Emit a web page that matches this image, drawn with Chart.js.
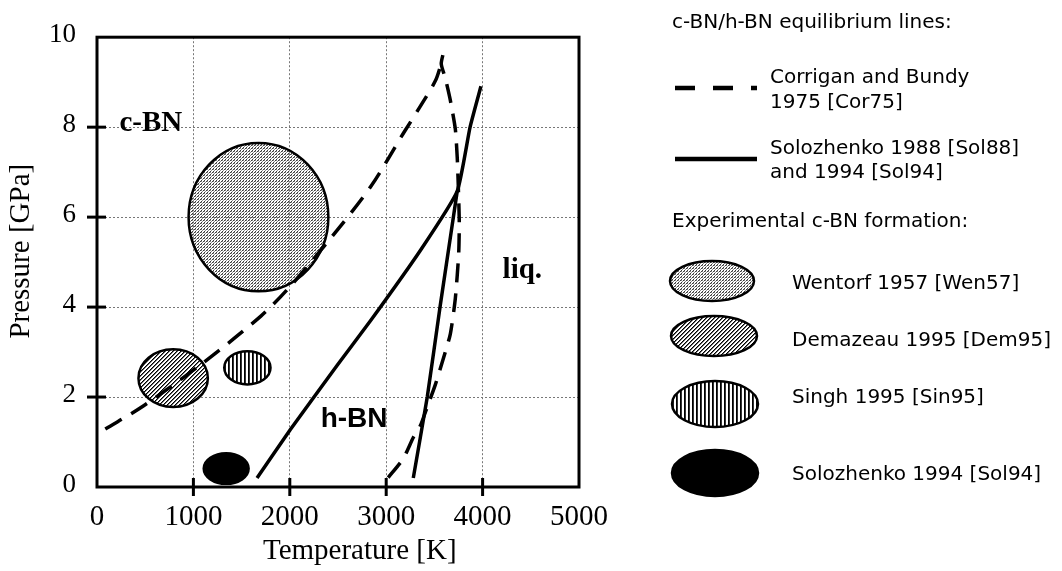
<!DOCTYPE html>
<html>
<head>
<meta charset="utf-8">
<script src="https://cdn.jsdelivr.net/npm/chart.js@4.4.1/dist/chart.umd.min.js"></script>
<style>
  html, body { margin: 0; padding: 0; background: #fff; }
  canvas { display: block; }
</style>
</head>
<body>
<canvas id="chart" width="1062" height="571"></canvas>
<script>
// Axis ranges (temperature in K, pressure in GPa)
const temperatureRange = [0, 5000];
const temperatureStep = 1000;
const pressureRange = [0, 10];
const pressureStep = 2;

// Corrigan and Bundy 1975: c-BN/h-BN equilibrium line
const corriganEqT = [86, 480, 1100, 1700, 2000, 2450, 2840, 3180, 3350, 3510, 3571];
const corriganEqP = [1.29, 1.80, 2.76, 3.80, 4.45, 5.60, 6.68, 7.87, 8.45, 9.03, 9.41];
// Corrigan and Bundy 1975: melting line
const corriganMeltT = [3021, 3177, 3281, 3354, 3426, 3509, 3592, 3665, 3717, 3752, 3758, 3748, 3737, 3717, 3665, 3613, 3571, 3603];
const corriganMeltP = [0.21, 0.63, 1.10, 1.36, 1.78, 2.27, 2.85, 3.40, 4.19, 5.19, 5.89, 6.68, 7.32, 7.96, 8.60, 9.09, 9.41, 9.73];

// Solozhenko 1988 / 1994: equilibrium line and melting line
const solozhenkoEqT = [1660, 2006, 2490, 2835, 3354, 3737, 3870, 3983];
const solozhenkoEqP = [0.20, 1.28, 2.70, 3.69, 5.26, 6.58, 8.00, 8.91];
const solozhenkoMeltT = [3281, 3426, 3561, 3737];
const solozhenkoMeltP = [0.20, 2.00, 4.04, 6.58];

// Experimental c-BN formation regions: centre and half-extent
const formationStudies = ['Wentorf 1957 [Wen57]', 'Demazeau 1995 [Dem95]', 'Singh 1995 [Sin95]', 'Solozhenko 1994 [Sol94]'];
const formationT = [1675, 790, 1560, 1340];
const formationP = [6.00, 2.42, 2.65, 0.41];
const formationHalfT = [725, 360, 240, 233];
const formationHalfP = [1.65, 0.64, 0.37, 0.34];

// Phase region names
const regionNames = ['c-BN', 'h-BN', 'liq.'];
const regionT = [558, 2667, 4412];
const regionP = [7.92, 1.335, 4.65];

const lineLegend = [
  ['Corrigan and Bundy', '1975 [Cor75]'],
  ['Solozhenko 1988 [Sol88]', 'and 1994 [Sol94]']
];

const toPoints = (ts, ps) => ts.map((t, i) => ({ x: t, y: ps[i] }));

const canvas = document.getElementById('chart');
const ctx = canvas.getContext('2d');

// Fill textures for the formation regions
function makeTexture(kind) {
  if (kind === 'solid') return '#000';
  const c = document.createElement('canvas');
  const g = c.getContext('2d');
  if (kind === 'stipple') {
    c.width = 3; c.height = 3;
    g.fillStyle = '#3a3a3a';
    g.fillRect(0, 0, 1, 1);
    g.fillRect(2, 1, 1, 1);
    g.fillStyle = '#8a8a8a';
    g.fillRect(1, 2, 1, 1);
    g.fillRect(0, 1, 1, 1);
  } else if (kind === 'diagonal') {
    c.width = 4; c.height = 4;
    g.fillStyle = '#fff'; g.fillRect(0, 0, 4, 4);
    for (let x = 0; x < 4; x++) {
      for (let y = 0; y < 4; y++) {
        const s = (x + y) % 4;
        if (s === 3) { g.fillStyle = '#000'; g.fillRect(x, y, 1, 1); }
        else if (s === 0) { g.fillStyle = '#6a6a6a'; g.fillRect(x, y, 1, 1); }
      }
    }
  } else if (kind === 'vertical') {
    c.width = 4; c.height = 1;
    g.fillStyle = '#fff'; g.fillRect(0, 0, 4, 1);
    g.fillStyle = '#000'; g.fillRect(0, 0, 1, 1);
    g.fillStyle = '#333'; g.fillRect(1, 0, 1, 1);
  }
  return ctx.createPattern(c, 'repeat');
}
const formationFills = [makeTexture('stipple'), makeTexture('diagonal'), makeTexture('vertical'), makeTexture('solid')];

function drawBlob(g, cx, cy, rx, ry, fill) {
  g.beginPath();
  g.ellipse(cx, cy, rx, ry, 0, 0, Math.PI * 2);
  g.fillStyle = fill;
  g.fill();
  g.lineWidth = 2.5;
  g.strokeStyle = '#000';
  g.stroke();
}

const phaseDiagram = {
  id: 'phaseDiagram',
  beforeDatasetsDraw(chart) {
    const { ctx: g, scales: { x, y }, chartArea: a } = chart;
    g.save();
    g.beginPath();
    g.rect(a.left, a.top, a.width, a.height);
    g.clip();
    formationT.forEach((t, i) => {
      const cx = x.getPixelForValue(t);
      const cy = y.getPixelForValue(formationP[i]);
      const rx = Math.abs(x.getPixelForValue(t + formationHalfT[i]) - cx);
      const ry = Math.abs(y.getPixelForValue(formationP[i] + formationHalfP[i]) - cy);
      drawBlob(g, cx, cy, rx, ry, formationFills[i]);
    });
    g.restore();
  },
  afterDatasetsDraw(chart) {
    const { ctx: g, scales: { x, y } } = chart;
    const fonts = ['bold 29px "Liberation Serif"', 'bold 28px "Liberation Sans"', 'bold 29px "Liberation Serif"'];
    g.save();
    g.fillStyle = '#000';
    g.textAlign = 'center';
    g.textBaseline = 'alphabetic';
    regionNames.forEach((name, i) => {
      g.font = fonts[i];
      g.fillText(name, x.getPixelForValue(regionT[i]), y.getPixelForValue(regionP[i]));
    });
    g.restore();
  },
  afterDraw(chart) {
    const { ctx: g, scales: { x, y }, chartArea: a } = chart;
    g.save();
    // plot frame
    g.strokeStyle = '#000';
    g.lineWidth = 3;
    g.strokeRect(a.left, a.top, a.width, a.height);
    // tick marks crossing the axes
    x.ticks.forEach(tk => {
      if (tk.value <= temperatureRange[0] || tk.value >= temperatureRange[1]) return;
      const px = x.getPixelForValue(tk.value);
      g.beginPath(); g.moveTo(px, a.bottom - 9); g.lineTo(px, a.bottom + 9); g.stroke();
    });
    y.ticks.forEach(tk => {
      if (tk.value <= pressureRange[0] || tk.value >= pressureRange[1]) return;
      const py = y.getPixelForValue(tk.value);
      g.beginPath(); g.moveTo(a.left - 10, py); g.lineTo(a.left + 9, py); g.stroke();
    });

    // legend
    g.fillStyle = '#000';
    g.font = '20px "DejaVu Sans"';
    g.textAlign = 'left';
    g.textBaseline = 'alphabetic';
    g.fillText('c-BN/h-BN equilibrium lines:', 672, 28);

    const lineSets = chart.data.datasets;
    const samples = [
      { y: 88, ds: lineSets[0], text: lineLegend[0], base: [83, 108] },
      { y: 159, ds: lineSets[2], text: lineLegend[1], base: [154, 178] }
    ];
    samples.forEach(s => {
      g.save();
      g.strokeStyle = s.ds.borderColor;
      g.lineWidth = 4.5;
      g.setLineDash(s.ds.borderDash && s.ds.borderDash.length ? [20, 18] : []);
      g.beginPath(); g.moveTo(675, s.y); g.lineTo(757, s.y); g.stroke();
      g.restore();
      g.fillText(s.text[0], 770, s.base[0]);
      g.fillText(s.text[1], 770, s.base[1]);
    });

    g.fillText('Experimental c-BN formation:', 672, 227);
    const keyCentres = [[712, 281, 42, 20], [714, 336, 43, 20], [715, 404, 43, 23], [715, 473, 43, 23]];
    const keyBaselines = [289, 346, 403, 480];
    formationStudies.forEach((name, i) => {
      const [cx, cy, rx, ry] = keyCentres[i];
      drawBlob(g, cx, cy, rx, ry, formationFills[i]);
      g.fillStyle = '#000';
      g.fillText(name, 792, keyBaselines[i]);
    });
    g.restore();
  }
};

const dashed = [19, 11];
const lineStyle = { borderColor: '#000', borderWidth: 3.5, pointRadius: 0, fill: false };

new Chart(ctx, {
  type: 'line',
  data: {
    datasets: [
      { label: 'Corrigan and Bundy 1975 [Cor75]', data: toPoints(corriganEqT, corriganEqP), borderDash: dashed, tension: 0.3, ...lineStyle },
      { label: 'Corrigan and Bundy 1975 [Cor75] melting', data: toPoints(corriganMeltT, corriganMeltP), borderDash: dashed, tension: 0.2, ...lineStyle },
      { label: 'Solozhenko 1988 [Sol88] and 1994 [Sol94]', data: toPoints(solozhenkoEqT, solozhenkoEqP), borderDash: [], tension: 0.15, ...lineStyle },
      { label: 'Solozhenko 1988 [Sol88] and 1994 [Sol94] melting', data: toPoints(solozhenkoMeltT, solozhenkoMeltP), borderDash: [], tension: 0.1, ...lineStyle }
    ]
  },
  options: {
    responsive: false,
    animation: false,
    events: [],
    layout: { padding: { left: 0, right: 483, top: 17, bottom: 0 } },
    plugins: { legend: { display: false }, tooltip: { enabled: false } },
    scales: {
      x: {
        type: 'linear',
        min: temperatureRange[0], max: temperatureRange[1],
        afterFit(scale) { scale.height = 84; },
        ticks: {
          stepSize: temperatureStep,
          color: '#000',
          padding: 13,
          maxRotation: 0,
          callback: v => String(v),
          font: { family: '"Liberation Serif"', size: 29 }
        },
        grid: { color: '#777', lineWidth: 1, drawTicks: false },
        border: { display: false, dash: [2, 2] },
        title: {
          display: true,
          text: '      Temperature [K]',
          color: '#000',
          padding: { top: 0, bottom: 2 },
          font: { family: '"Liberation Serif"', size: 29 }
        }
      },
      y: {
        type: 'linear',
        min: pressureRange[0], max: pressureRange[1],
        afterFit(scale) { scale.width = 97; },
        ticks: {
          stepSize: pressureStep,
          color: '#000',
          padding: 21,
          labelOffset: -2,
          callback: v => String(v),
          font: { family: '"Liberation Serif"', size: 27 }
        },
        grid: { color: '#777', lineWidth: 1, drawTicks: false },
        border: { display: false, dash: [2, 2] },
        title: {
          display: true,
          text: '   Pressure [GPa]',
          color: '#000',
          padding: { top: 4, bottom: 0 },
          font: { family: '"Liberation Serif"', size: 29 }
        }
      }
    }
  },
  plugins: [phaseDiagram]
});
</script>
</body>
</html>
